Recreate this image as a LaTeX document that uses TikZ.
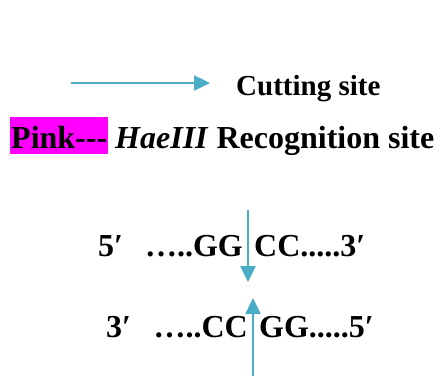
\documentclass[tikz,border=0pt]{standalone}
\usepackage{fontspec}
\setmainfont{Liberation Serif}
\usetikzlibrary{arrows.meta}
\definecolor{cutblue}{RGB}{75,172,198}
\definecolor{pinkbg}{RGB}{255,0,255}
\tikzset{
  cut/.style={draw=cutblue,line width=2.5pt,-{Triangle[length=16pt,width=15pt]}},
  txt/.style={inner sep=0pt,font=\fontsize{32}{37}\selectfont\bfseries}
}
\begin{document}
\begin{tikzpicture}[x=1pt,y=-1pt]
\useasboundingbox (0,0) rectangle (435,376);
% key
\coordinate (keys) at (71,83);
\coordinate (keye) at (210,83);
\draw[cut] (keys)--(keye);
\node[name=cutting,txt,anchor=base west,font=\fontsize{29}{34}\selectfont\bfseries] at (236,95){Cutting site};
\node[name=pink,txt,anchor=base west,fill=pinkbg,inner xsep=1pt,text height=31pt,text depth=6pt] at (10,148){Pink-{}-{}-};
\node[name=recog,txt,anchor=base west] at (115,148){\textit{HaeIII} Recognition site};
% top strand
\node[name=t5,txt,anchor=base west] at (98,256){5′};
\node[name=tl,txt,anchor=base east] at (243,256){…..GG};
\node[name=tr,txt,anchor=base west] at (254,256){CC.....3′};
% bottom strand
\node[name=b3,txt,anchor=base west] at (106,337){3′};
\node[name=bl,txt,anchor=base east] at (248,337){…..CC};
\node[name=br,txt,anchor=base west] at (259,337){GG.....5′};
% cuts
\coordinate (ta) at (248,210);
\coordinate (tb) at (248,282);
\coordinate (ba) at (253,376);
\coordinate (bb) at (253,298);
\draw[cut] (ta)--(tb);
\draw[cut] (ba)--(bb);
\end{tikzpicture}
\end{document}
